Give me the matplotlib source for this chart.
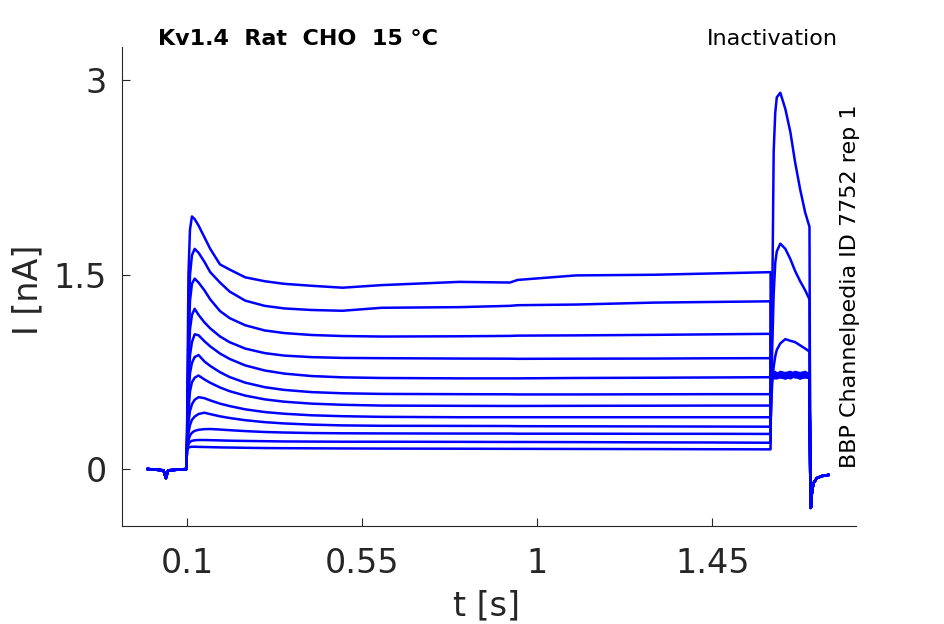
import matplotlib
matplotlib.use('Agg')
import matplotlib.pyplot as plt

# Kv1.4 inactivation protocol, 12 sweeps

# holding before the prepulse
t_base = [0.0, 0.040, 0.046, 0.052, 0.099]
I_base = [0.0, -0.01, -0.07, -0.01, 0.0]

# prepulse 0.1 - 1.6 s
t_pre = [0.100, 0.104, 0.108, 0.113, 0.120, 0.130, 0.145, 0.160, 0.185, 0.210,
         0.250, 0.300, 0.350, 0.420, 0.500, 0.600, 0.800, 0.930, 0.950, 1.100,
         1.300, 1.450, 1.600]
I_pre = [
    [0.15, 1.50, 1.85, 1.95, 1.93, 1.88, 1.79, 1.70, 1.58, 1.54, 1.48, 1.45, 1.43, 1.415, 1.40, 1.42, 1.445, 1.44, 1.46, 1.495, 1.50, 1.51, 1.52],
    [0.15, 1.10, 1.50, 1.65, 1.70, 1.67, 1.60, 1.52, 1.44, 1.37, 1.30, 1.26, 1.24, 1.228, 1.222, 1.245, 1.25, 1.26, 1.265, 1.27, 1.285, 1.29, 1.295],
    [0.15, 0.95, 1.30, 1.43, 1.47, 1.44, 1.38, 1.31, 1.22, 1.165, 1.11, 1.07, 1.05, 1.035, 1.027, 1.023, 1.025, 1.028, 1.03, 1.032, 1.036, 1.04, 1.044],
    [0.15, 0.80, 1.08, 1.19, 1.237, 1.19, 1.133, 1.086, 1.024, 0.979, 0.93, 0.895, 0.876, 0.864, 0.858, 0.856, 0.853, 0.852, 0.851, 0.852, 0.853, 0.855, 0.856],
    [0.15, 0.65, 0.88, 0.98, 1.04, 1.033, 0.987, 0.947, 0.892, 0.85, 0.80, 0.761, 0.737, 0.718, 0.708, 0.703, 0.70, 0.70, 0.70, 0.703, 0.705, 0.707, 0.709],
    [0.15, 0.55, 0.74, 0.82, 0.865, 0.88, 0.831, 0.796, 0.748, 0.71, 0.667, 0.632, 0.611, 0.594, 0.585, 0.58, 0.578, 0.577, 0.576, 0.576, 0.577, 0.578, 0.578],
    [0.15, 0.45, 0.60, 0.67, 0.705, 0.722, 0.692, 0.666, 0.63, 0.601, 0.567, 0.538, 0.52, 0.505, 0.496, 0.49, 0.488, 0.487, 0.487, 0.488, 0.489, 0.49, 0.49],
    [0.15, 0.36, 0.45, 0.50, 0.535, 0.555, 0.547, 0.53, 0.505, 0.486, 0.461, 0.44, 0.427, 0.415, 0.408, 0.403, 0.40, 0.40, 0.40, 0.40, 0.40, 0.40, 0.40],
    [0.15, 0.28, 0.34, 0.38, 0.405, 0.425, 0.435, 0.424, 0.407, 0.394, 0.377, 0.362, 0.352, 0.343, 0.337, 0.334, 0.333, 0.332, 0.331, 0.33, 0.329, 0.328, 0.327],
    [0.15, 0.22, 0.26, 0.28, 0.295, 0.303, 0.308, 0.309, 0.305, 0.30, 0.293, 0.286, 0.282, 0.278, 0.276, 0.275, 0.274, 0.274, 0.273, 0.273, 0.272, 0.272, 0.271],
    [0.15, 0.19, 0.21, 0.218, 0.222, 0.224, 0.224, 0.223, 0.221, 0.219, 0.217, 0.215, 0.213, 0.212, 0.211, 0.211, 0.21, 0.209, 0.209, 0.208, 0.206, 0.205, 0.203],
    [0.15, 0.165, 0.17, 0.172, 0.172, 0.171, 0.17, 0.169, 0.167, 0.166, 0.164, 0.162, 0.161, 0.16, 0.159, 0.158, 0.157, 0.156, 0.156, 0.155, 0.154, 0.153, 0.152],
]

# test pulse 1.6 - 1.7 s
t_test = [1.6005, 1.604, 1.608, 1.612, 1.616, 1.625, 1.638, 1.651, 1.663, 1.676, 1.689, 1.700]
I_test = [
    [0.70, 0.72, 0.73, 0.72, 0.71, 0.73, 0.72, 0.71, 0.72, 0.73, 0.72, 0.71],
    [0.72, 0.74, 0.73, 0.74, 0.72, 0.74, 0.73, 0.74, 0.72, 0.74, 0.73, 0.74],
    [0.71, 0.70, 0.71, 0.72, 0.70, 0.71, 0.70, 0.72, 0.71, 0.70, 0.71, 0.72],
    [0.73, 0.75, 0.74, 0.75, 0.73, 0.75, 0.74, 0.73, 0.75, 0.74, 0.75, 0.73],
    [0.72, 0.71, 0.72, 0.73, 0.72, 0.71, 0.73, 0.72, 0.71, 0.72, 0.73, 0.72],
    [0.70, 0.72, 0.71, 0.70, 0.72, 0.71, 0.70, 0.71, 0.72, 0.70, 0.71, 0.70],
    [0.74, 0.73, 0.74, 0.72, 0.74, 0.73, 0.74, 0.75, 0.73, 0.74, 0.72, 0.74],
    [0.71, 0.73, 0.72, 0.71, 0.73, 0.72, 0.71, 0.73, 0.72, 0.71, 0.73, 0.72],
    [0.73, 0.72, 0.70, 0.73, 0.71, 0.72, 0.73, 0.70, 0.72, 0.73, 0.71, 0.73],
    [0.40, 0.65, 0.79, 0.87, 0.92, 0.97, 1.003, 0.99, 0.98, 0.955, 0.93, 0.907],
    [0.35, 0.90, 1.35, 1.59, 1.68, 1.74, 1.70, 1.62, 1.53, 1.45, 1.38, 1.31],
    [0.40, 1.20, 2.45, 2.75, 2.87, 2.905, 2.78, 2.60, 2.37, 2.16, 1.98, 1.87],
]

# back to holding (tail current)
t_tail = [1.702, 1.7035, 1.706, 1.710, 1.719, 1.732, 1.740, 1.748]
I_tail = [-0.05, -0.30, -0.19, -0.11, -0.07, -0.054, -0.05, -0.046]

fig = plt.figure(figsize=(9.45, 6.24), dpi=100)
ax = fig.add_axes([0.129, 0.157, 0.777, 0.768])

for k in range(len(I_pre)):
    t = t_base + t_pre + t_test + t_tail
    I = I_base + I_pre[k] + I_test[k] + I_tail
    ax.plot(t, I, color=(0, 0, 1), lw=1.8)

ax.set_xlim(-0.067, 1.82)
ax.set_ylim(-0.44, 3.26)
ax.set_xticks([0.1, 0.55, 1, 1.45])
ax.set_xticklabels(['0.1', '0.55', '1', '1.45'])
ax.set_yticks([0, 1.5, 3])
ax.set_yticklabels(['0', '1.5', '3'])

grey = '#262626'
for s in ['top', 'right']:
    ax.spines[s].set_visible(False)
for s in ['left', 'bottom']:
    ax.spines[s].set_color(grey)
    ax.spines[s].set_linewidth(0.8)
ax.tick_params(axis='both', direction='in', length=6, width=0.8,
               colors=grey, labelsize=24)
ax.tick_params(axis='x', pad=15)
ax.tick_params(axis='y', pad=11)

ax.set_xlabel('t [s]', fontsize=24, color=grey)
ax.set_ylabel('I [nA]', fontsize=24, color=grey)
ax.xaxis.set_label_coords(0.496, -0.132)
ax.yaxis.set_label_coords(-0.105, 0.493)

fig.text(158/945, 1-39/624, 'Kv1.4  Rat  CHO  15 °C', ha='left', va='center',
         fontsize=16, fontweight='bold')
fig.text(838/945, 1-39/624, 'Inactivation', ha='right', va='center', fontsize=16)
fig.text(850/945, 1-286/624, 'BBP Channelpedia ID 7752 rep 1', rotation=90,
         ha='center', va='center', fontsize=16)

plt.savefig('out.png', dpi=100)
